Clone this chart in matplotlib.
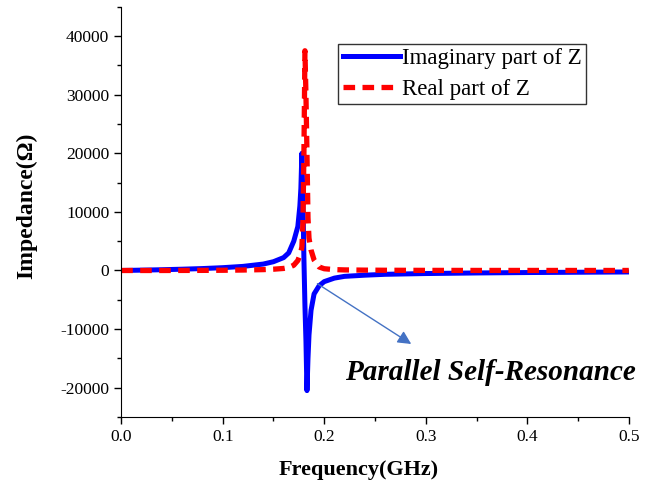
import matplotlib.pyplot as plt
from matplotlib.ticker import MultipleLocator

plt.rcParams['font.family'] = ['Liberation Serif', 'DejaVu Serif']
plt.rcParams['axes.unicode_minus'] = False

# sampled impedance of the inductor around its self-resonance
freq = [0.0, 0.02, 0.04, 0.06, 0.08, 0.10, 0.12, 0.14, 0.15, 0.16, 0.165,
        0.17, 0.174, 0.176, 0.177, 0.178, 0.179, 0.180, 0.181, 0.182, 0.183,
        0.184, 0.185, 0.187, 0.19, 0.195, 0.20, 0.21, 0.22, 0.24, 0.26,
        0.30, 0.35, 0.40, 0.45, 0.50]
z_imag = [0, 60, 130, 220, 330, 480, 700, 1100, 1500, 2200, 3000,
          5000, 7500, 11000, 14000, 20000, 12000, 2000, -6000, -12000, -20500,
          -15000, -11000, -6800, -4000, -2600, -1900, -1300, -1000, -800, -650,
          -520, -420, -350, -300, -250]
z_real = [0, 0, 0, 10, 20, 40, 80, 150, 220, 350, 500,
          900, 1700, 2600, 3200, 4000, 8000, 20000, 37500, 30000, 20000,
          9000, 5500, 3500, 1800, 600, 300, 150, 100, 60, 40,
          20, 10, 10, 5, 5]

fig = plt.figure(figsize=(6.55, 4.86), dpi=100)
ax = fig.add_axes([0.185, 0.142, 0.775, 0.844])

ax.plot(freq, z_imag, color='#0000ff', lw=3.6, label='Imaginary part of Z')
ax.plot(freq, z_real, color='#ff0000', lw=3.8, linestyle=(0, (2.2, 1.4)),
        label='Real part of Z')

ax.set_xlim(0, 0.5)
ax.set_ylim(-25000, 45000)
ax.xaxis.set_major_locator(MultipleLocator(0.1))
ax.xaxis.set_minor_locator(MultipleLocator(0.05))
ax.yaxis.set_major_locator(MultipleLocator(10000))
ax.yaxis.set_minor_locator(MultipleLocator(5000))
ax.xaxis.set_major_formatter(plt.FormatStrFormatter('%.1f'))

for s in ['top', 'right']:
    ax.spines[s].set_visible(False)
ax.tick_params(which='major', direction='out', length=5, width=1, labelsize=12.5)
ax.tick_params(which='minor', direction='out', length=3, width=1)

ax.set_xlabel('Frequency(GHz)', fontsize=16, fontweight='bold')
ax.xaxis.set_label_coords(0.467, -0.105)
ax.set_ylabel('Impedance(\u03a9)', fontsize=17, fontweight='bold')
ax.yaxis.set_label_coords(-0.165, 0.515)

leg = ax.legend(loc='upper left', bbox_to_anchor=(0.427, 0.91), fontsize=16.5,
                frameon=True, fancybox=False, edgecolor='black',
                handlelength=2.5, handletextpad=0.1, borderpad=0.2,
                labelspacing=0.4, borderaxespad=0)
leg.get_frame().set_linewidth(1.0)

ax.annotate('', xy=(0.288, -12800), xytext=(0.191, -2000),
            arrowprops=dict(arrowstyle='-|>', color='#4472c4', lw=1.0,
                            mutation_scale=20))
ax.text(0.507, -17400, 'Parallel Self-Resonance', fontsize=21,
        fontweight='bold', style='italic', ha='right', va='center')

fig.savefig('out.png', dpi=100)
